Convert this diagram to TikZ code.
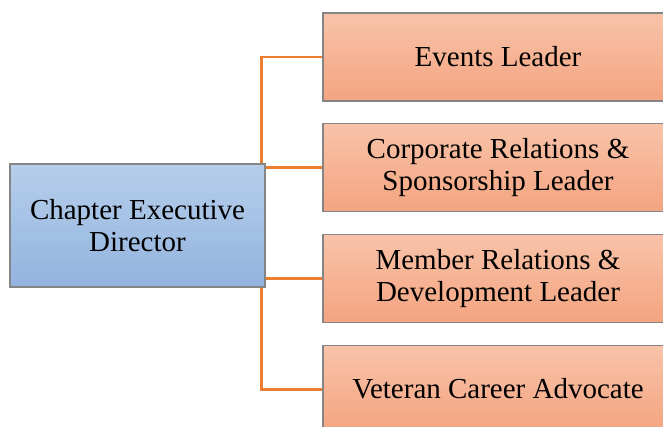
\documentclass[tikz,border=0pt]{standalone}
\usepackage{fontspec}
\setmainfont{Liberation Serif}
\usetikzlibrary{positioning,backgrounds}
\definecolor{bosstop}{HTML}{B6CEEA}
\definecolor{bossbot}{HTML}{93B4DF}
\definecolor{leadtop}{HTML}{F8C3A9}
\definecolor{leadbot}{HTML}{F4A480}
\definecolor{linkc}{HTML}{ED7D31}
\definecolor{edgec}{HTML}{858585}

\begin{document}
\begin{tikzpicture}[x=1pt, y=1pt, node distance=110.7pt,
    bossbox/.style={rectangle, draw=edgec, line width=1.2pt, top color=bosstop, bottom color=bossbot, minimum width=255pt, minimum height=123pt, align=center, inner sep=0pt},
    leadbox/.style={rectangle, draw=edgec, line width=1.2pt, top color=leadtop, bottom color=leadbot, minimum width=350pt, minimum height=88pt, align=center, inner sep=0pt},
    link/.style={draw=linkc, line width=2.8pt},
    every node/.style={font=\fontsize{29}{32}\selectfont}]

    \useasboundingbox (0,0) rectangle (663,-427);
    \clip (0,0) rectangle (663,-427);

    \node[leadbox] at (498,-57) (ev) {Events Leader};
    \node[leadbox, below of=ev] (corp) {Corporate Relations \&\\Sponsorship Leader};
    \node[leadbox, below of=corp] (mem) {Member Relations \&\\Development Leader};
    \node[leadbox, below of=mem] (vet) {Veteran Career Advocate};
    \node[bossbox] at (137.5,-225.5) (boss) {Chapter Executive\\Director};
    \coordinate (trunk) at ([xshift=-4pt]boss.east);

    \begin{pgfonlayer}{background}
    \draw[link] (ev.west) -| (trunk) |- (vet.west);
    \draw[link] (trunk |- corp.west) -- (corp.west);
    \draw[link] (trunk |- mem.west) -- (mem.west);
    \end{pgfonlayer}

  \end{tikzpicture}
\end{document}
